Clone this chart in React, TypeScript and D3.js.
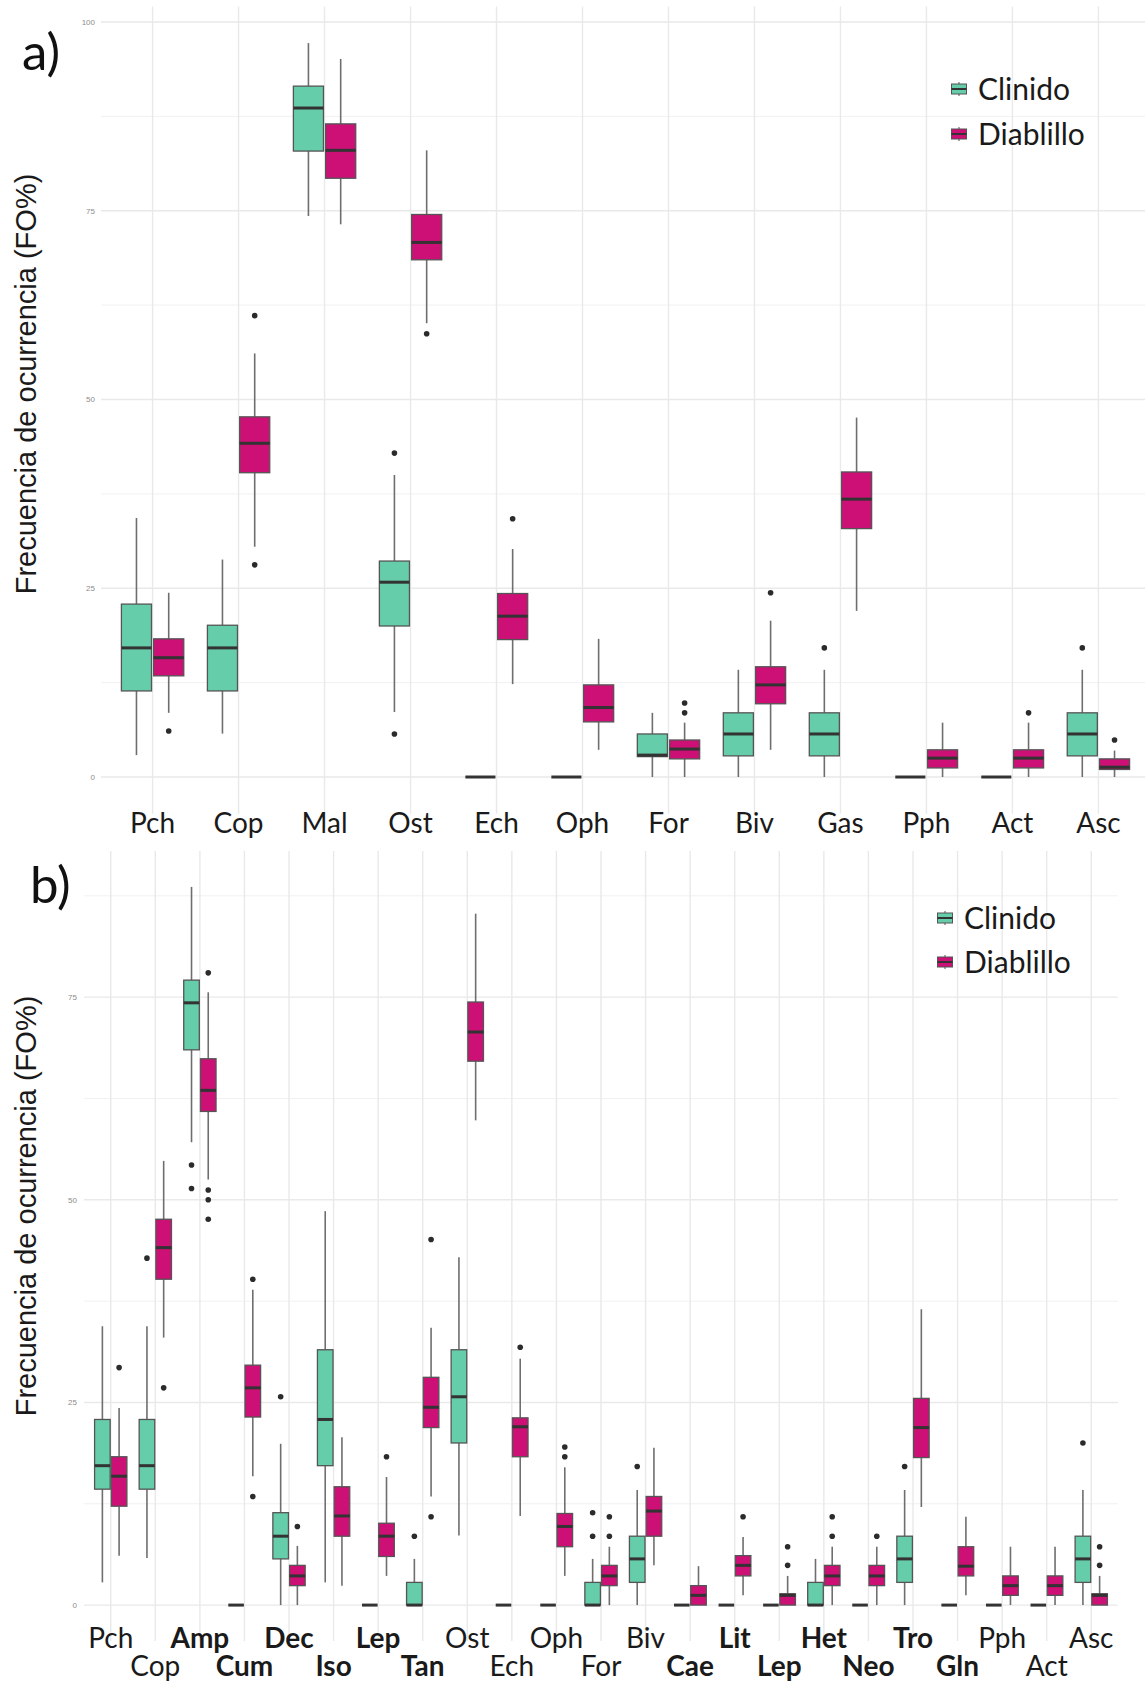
import React, { useRef, useEffect } from "react";
import * as d3 from "d3";

// panel a) - prey categories
const catsA = ["Pch", "Cop", "Mal", "Ost", "Ech", "Oph", "For", "Biv", "Gas", "Pph", "Act", "Asc"];

// [lower whisker, q1, median, q3, upper whisker]
const clinidoA = [
  [2.9, 11.4, 17.1, 22.9, 34.3],
  [5.75, 11.4, 17.1, 20.1, 28.8],
  [74.3, 82.9, 88.6, 91.5, 97.2],
  [8.6, 20.0, 25.8, 28.6, 40.0],
  [0, 0, 0, 0, 0],
  [0, 0, 0, 0, 0],
  [0, 2.7, 2.9, 5.7, 8.5],
  [0, 2.8, 5.7, 8.5, 14.2],
  [0, 2.8, 5.7, 8.5, 14.2],
  [0, 0, 0, 0, 0],
  [0, 0, 0, 0, 0],
  [0, 2.8, 5.7, 8.5, 14.2],
];
const clinidoOutA = [[], [], [], [5.7, 42.9], [], [], [], [], [17.1], [], [], [17.1]];

const diablilloA = [
  [8.5, 13.4, 15.8, 18.3, 24.4],
  [30.5, 40.3, 44.2, 47.7, 56.1],
  [73.2, 79.3, 83.0, 86.5, 95.1],
  [60.1, 68.5, 70.8, 74.5, 83.0],
  [12.3, 18.2, 21.3, 24.3, 30.2],
  [3.6, 7.3, 9.2, 12.2, 18.3],
  [0, 2.4, 3.7, 4.9, 7.2],
  [3.6, 9.7, 12.2, 14.6, 20.7],
  [22.0, 32.9, 36.8, 40.4, 47.6],
  [0, 1.2, 2.5, 3.6, 7.2],
  [0, 1.2, 2.5, 3.6, 7.2],
  [0, 1.0, 1.3, 2.4, 3.5],
];
const diablilloOutA = [[6.1], [61.1, 28.1], [], [58.7], [34.2], [], [8.5, 9.8], [24.4], [], [], [8.5], [4.9]];

const ticksA = [0, 25, 50, 75, 100];

// panel b) - detailed prey categories
const catsB = [
  "Pch", "Cop", "Amp", "Cum", "Dec", "Iso", "Lep", "Tan", "Ost", "Ech", "Oph", "For",
  "Biv", "Cae", "Lit", "Lep", "Het", "Neo", "Tro", "Gln", "Pph", "Act", "Asc",
];
const boldB = [
  false, false, true, true, true, true, true, true, false, false, false, false,
  false, true, true, true, true, true, true, true, false, false, false,
];

const clinidoB = [
  [2.8, 14.3, 17.2, 22.9, 34.4],
  [5.8, 14.3, 17.2, 22.9, 34.4],
  [57.1, 68.5, 74.3, 77.1, 88.6],
  [0, 0, 0, 0, 0],
  [0, 5.7, 8.5, 11.4, 19.9],
  [2.8, 17.2, 22.9, 31.5, 48.6],
  [0, 0, 0, 0, 0],
  [0, 0, 0, 2.8, 5.7],
  [8.6, 20.0, 25.7, 31.5, 42.9],
  [0, 0, 0, 0, 0],
  [0, 0, 0, 0, 0],
  [0, 0, 0, 2.8, 5.7],
  [0, 2.8, 5.7, 8.5, 14.2],
  [0, 0, 0, 0, 0],
  [0, 0, 0, 0, 0],
  [0, 0, 0, 0, 0],
  [0, 0, 0, 2.8, 5.7],
  [0, 0, 0, 0, 0],
  [0, 2.8, 5.7, 8.5, 14.2],
  [0, 0, 0, 0, 0],
  [0, 0, 0, 0, 0],
  [0, 0, 0, 0, 0],
  [0, 2.8, 5.7, 8.5, 14.2],
];
const clinidoOutB = [
  [], [42.8], [54.3, 51.4], [], [25.7], [], [], [8.5], [], [], [], [8.5, 11.4],
  [17.1], [], [], [], [], [], [17.1], [], [], [], [20.0],
];

const diablilloB = [
  [6.1, 12.2, 15.9, 18.3, 24.3],
  [33.0, 40.2, 44.1, 47.6, 54.8],
  [52.5, 60.9, 63.5, 67.4, 75.6],
  [15.9, 23.2, 26.8, 29.6, 38.9],
  [0, 2.4, 3.6, 4.9, 7.3],
  [2.4, 8.5, 11.0, 14.6, 20.7],
  [3.6, 6.0, 8.5, 10.1, 15.8],
  [13.4, 21.9, 24.4, 28.1, 34.2],
  [59.8, 67.1, 70.7, 74.4, 85.3],
  [11.0, 18.3, 22.0, 23.1, 30.4],
  [3.6, 7.2, 9.7, 11.3, 17.0],
  [0, 2.4, 3.6, 4.9, 7.2],
  [4.9, 8.5, 11.6, 13.4, 19.4],
  [0, 0, 1.2, 2.4, 4.8],
  [1.2, 3.6, 4.9, 6.1, 8.4],
  [0, 0, 1.2, 1.4, 3.6],
  [0, 2.4, 3.6, 4.9, 7.2],
  [0, 2.4, 3.6, 4.9, 7.2],
  [12.1, 18.2, 21.9, 25.5, 36.5],
  [1.2, 3.6, 4.8, 7.2, 10.9],
  [0, 1.2, 2.4, 3.6, 7.2],
  [0, 1.2, 2.4, 3.6, 7.2],
  [0, 0, 1.2, 1.4, 3.6],
];
const diablilloOutB = [
  [29.3], [26.8], [78.0, 51.2, 50.0, 47.6], [40.2, 13.4], [9.7], [], [18.3], [45.1, 10.9],
  [], [31.8], [18.3, 19.5], [8.5, 10.9], [], [], [10.9], [4.9, 7.2], [8.5, 10.9], [8.5],
  [], [], [], [], [4.9, 7.2],
];

const ticksB = [0, 25, 50, 75];

const seriesNames = ["Clinido", "Diablillo"];
const CLINIDO = "#66CDAA";
const DIABLILLO = "#CD1076";
const FONT = "Lato, 'Open Sans', sans-serif";
const TITLE_FONT = "'Liberation Sans', Arial, sans-serif";

const drawPanel = (svg, p) => {
  const all = [
    ...p.clin.flat(),
    ...p.diab.flat(),
    ...p.clinOut.flat(),
    ...p.diabOut.flat(),
  ];
  const [mn, mx] = d3.extent(all);
  const pad = (mx - mn) * 0.05; // ggplot default expansion
  const y = d3.scaleLinear().domain([mn - pad, mx + pad]).range([p.bottom, p.top]);
  const x = d3
    .scalePoint()
    .domain(p.cats.map((c, i) => String(i)))
    .range([p.left, p.right])
    .padding(0.6);
  const step = x.step();

  const g = svg.append("g");

  // minor grid
  const minor = p.ticks.map((t) => t + 12.5).filter((t) => t < mx + pad);
  g.selectAll(".minor")
    .data(minor)
    .join("line")
    .attr("x1", p.left)
    .attr("x2", p.right)
    .attr("y1", (d) => y(d))
    .attr("y2", (d) => y(d))
    .attr("stroke", "#f1f1f1")
    .attr("stroke-width", 1);

  g.selectAll(".major")
    .data(p.ticks)
    .join("line")
    .attr("x1", p.left)
    .attr("x2", p.right)
    .attr("y1", (d) => y(d))
    .attr("y2", (d) => y(d))
    .attr("stroke", "#e9e9e9")
    .attr("stroke-width", 1.4);

  g.selectAll(".vgrid")
    .data(p.cats.map((c, i) => String(i)))
    .join("line")
    .attr("x1", (d) => x(d))
    .attr("x2", (d) => x(d))
    .attr("y1", p.top)
    .attr("y2", p.bottom)
    .attr("stroke", "#e9e9e9")
    .attr("stroke-width", 1.4);

  // y tick labels
  g.selectAll(".ytick")
    .data(p.ticks)
    .join("text")
    .attr("x", p.tickX)
    .attr("y", (d) => y(d))
    .attr("dy", "0.35em")
    .attr("text-anchor", "end")
    .attr("font-family", TITLE_FONT)
    .attr("font-size", 8)
    .attr("fill", "#8c8c8c")
    .text((d) => d);

  const series = [
    { data: p.clin, out: p.clinOut, fill: CLINIDO, dx: -0.1875 },
    { data: p.diab, out: p.diabOut, fill: DIABLILLO, dx: 0.1875 },
  ];
  const w = 0.35 * step;

  series.forEach((s) => {
    s.data.forEach((d, i) => {
      const cx = x(String(i)) + s.dx * step;
      const [lo, q1, med, q3, hi] = d;
      const bg = g.append("g");
      bg.append("line")
        .attr("x1", cx)
        .attr("x2", cx)
        .attr("y1", y(hi))
        .attr("y2", y(q3))
        .attr("stroke", "#6e6e6e")
        .attr("stroke-width", 1.6);
      bg.append("line")
        .attr("x1", cx)
        .attr("x2", cx)
        .attr("y1", y(q1))
        .attr("y2", y(lo))
        .attr("stroke", "#6e6e6e")
        .attr("stroke-width", 1.6);
      bg.append("rect")
        .attr("x", cx - w / 2)
        .attr("y", y(q3))
        .attr("width", w)
        .attr("height", Math.max(0, y(q1) - y(q3)))
        .attr("fill", s.fill)
        .attr("stroke", "#555")
        .attr("stroke-width", 1.3);
      bg.append("line")
        .attr("x1", cx - w / 2)
        .attr("x2", cx + w / 2)
        .attr("y1", y(med))
        .attr("y2", y(med))
        .attr("stroke", "#333")
        .attr("stroke-width", 3);
      bg.selectAll("circle")
        .data(s.out[i])
        .join("circle")
        .attr("cx", cx)
        .attr("cy", (v) => y(v))
        .attr("r", 2.8)
        .attr("fill", "#2b2b2b");
    });
  });

  // category labels
  g.selectAll(".xlab")
    .data(p.cats)
    .join("text")
    .attr("x", (d, i) => x(String(i)))
    .attr("y", (d, i) => (p.twoRows && i % 2 === 1 ? p.labelY2 : p.labelY))
    .attr("text-anchor", "middle")
    .attr("font-family", FONT)
    .attr("font-size", 28)
    .attr("font-weight", (d, i) => (p.bold && p.bold[i] ? 700 : 400))
    .attr("fill", "#1a1a1a")
    .text((d) => d);

  // y title
  svg.append("text")
    .attr("transform", `translate(${p.titleX}, ${p.titleY}) rotate(-90)`)
    .attr("text-anchor", "middle")
    .attr("dominant-baseline", "central")
    .attr("font-family", TITLE_FONT)
    .attr("font-size", 29)
    .attr("fill", "#1a1a1a")
    .text("Frecuencia de ocurrencia (FO%)");

  // panel letter
  svg.append("text")
    .attr("x", p.letterX)
    .attr("y", p.letterY)
    .attr("font-family", FONT)
    .attr("font-size", 51)
    .attr("fill", "#111")
    .text(p.letter);

  // legend
  const lg = svg.append("g").attr("transform", `translate(${p.legX}, ${p.legY})`);
  seriesNames.forEach((name, i) => {
    const cy = i * p.legGap;
    lg.append("line")
      .attr("x1", 8)
      .attr("x2", 8)
      .attr("y1", cy - 7)
      .attr("y2", cy + 7)
      .attr("stroke", "#6e6e6e")
      .attr("stroke-width", 1.2);
    lg.append("rect")
      .attr("x", 0.5)
      .attr("y", cy - 5)
      .attr("width", 15)
      .attr("height", 10)
      .attr("fill", i === 0 ? CLINIDO : DIABLILLO)
      .attr("stroke", "#555")
      .attr("stroke-width", 1);
    lg.append("line")
      .attr("x1", 0.5)
      .attr("x2", 15.5)
      .attr("y1", cy)
      .attr("y2", cy)
      .attr("stroke", "#333")
      .attr("stroke-width", 2);
    lg.append("text")
      .attr("x", 27)
      .attr("y", cy)
      .attr("dy", "0.35em")
      .attr("font-family", FONT)
      .attr("font-size", 30)
      .attr("fill", "#1a1a1a")
      .text(name);
  });
};

const App = () => {
  const svgRef = useRef(null);

  useEffect(() => {
    const svg = d3.select(svgRef.current);
    svg.selectAll("*").remove();

    drawPanel(svg, {
      cats: catsA,
      clin: clinidoA,
      clinOut: clinidoOutA,
      diab: diablilloA,
      diabOut: diablilloOutA,
      ticks: ticksA,
      left: 101,
      right: 1150,
      top: 6.4,
      bottom: 813.7,
      tickX: 95,
      labelY: 833,
      twoRows: false,
      titleX: 26,
      titleY: 384,
      letter: "a)",
      letterX: 22,
      letterY: 70,
      legX: 951,
      legY: 89,
      legGap: 45,
    });

    drawPanel(svg, {
      cats: catsB,
      bold: boldB,
      clin: clinidoB,
      clinOut: clinidoOutB,
      diab: diablilloB,
      diabOut: diablilloOutB,
      ticks: ticksB,
      left: 84,
      right: 1118,
      top: 851,
      bottom: 1641,
      tickX: 77,
      labelY: 1648,
      labelY2: 1676,
      twoRows: true,
      titleX: 26,
      titleY: 1206,
      letter: "b)",
      letterX: 30,
      letterY: 903,
      legX: 937,
      legY: 918,
      legGap: 44,
    });
  }, []);

  return (
    <svg
      ref={svgRef}
      width={1145}
      height={1682}
      style={{ position: "absolute", left: 0, top: 0, background: "#fff" }}
    ></svg>
  );
};

export default App;
